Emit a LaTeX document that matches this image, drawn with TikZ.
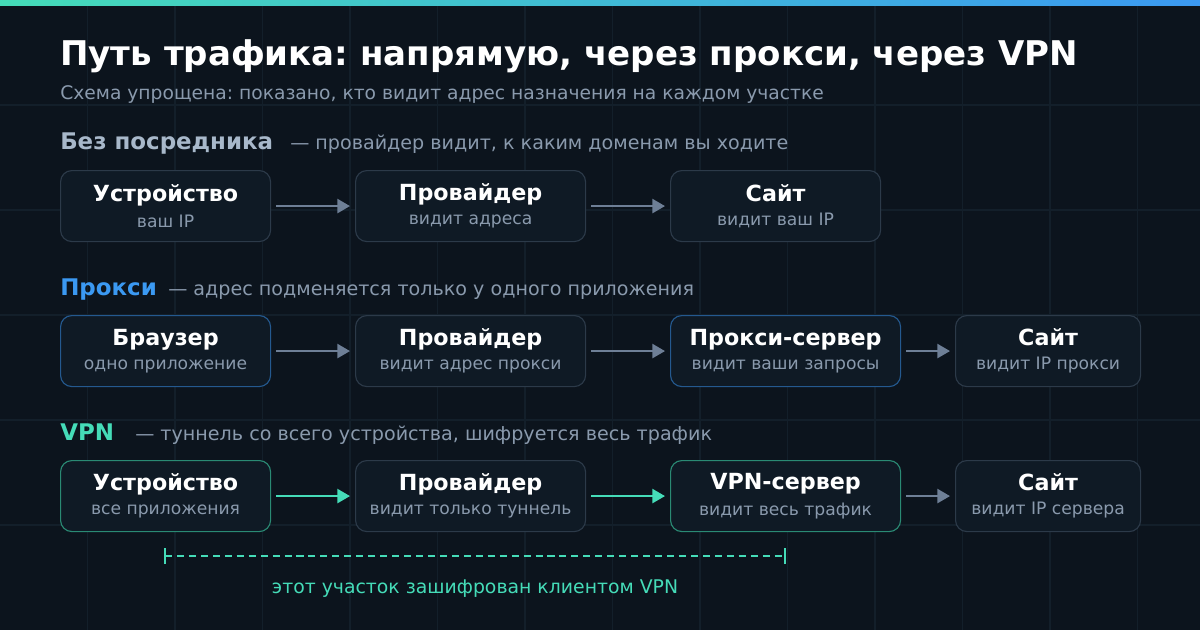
\documentclass[tikz,border=0pt]{standalone}
\usepackage{fontspec}
\setmainfont{DejaVu Sans}
\usetikzlibrary{positioning,arrows.meta}
\definecolor{bgdark}{HTML}{0C141D}
\definecolor{gridc}{HTML}{131F2A}
\definecolor{boxfill}{HTML}{0F1A25}
\definecolor{boxline}{HTML}{2C3A49}
\definecolor{bluel}{HTML}{24598F}
\definecolor{tealline}{HTML}{2A8A74}
\definecolor{teal}{HTML}{45DCB8}
\definecolor{blueh}{HTML}{3B99F2}
\definecolor{greyt}{HTML}{8A9AAD}
\definecolor{greyh}{HTML}{A8B8CA}
\definecolor{arrowc}{HTML}{6E7F96}
\tikzset{
  box/.style={draw=boxline, fill=boxfill, rounded corners=8, line width=0.8pt,
    anchor=north west, minimum height=71*0.025cm, align=center, inner sep=0pt},
  hdr/.style={anchor=base west, font=\fontsize{16.3}{19}\selectfont\bfseries, inner sep=0pt},
  dsc/.style={anchor=base west, text=greyt, font=\fontsize{13.6}{16}\selectfont, inner sep=0pt},
  flow/.style={-{Triangle[length=9pt,width=10pt]}, line width=1.6pt, arrowc, shorten <=5*0.025cm, shorten >=5*0.025cm},
  vflow/.style={flow, teal}
}
\newcommand{\bx}[2]{{\fontsize{15.8}{18}\selectfont\bfseries\color{white}#1}\\[5pt]{\fontsize{12.2}{14}\selectfont\color{greyt}#2}}
\begin{document}
\frenchspacing
\begin{tikzpicture}[x=0.025cm,y=-0.025cm]
\useasboundingbox (0,0) rectangle (1200,630);
\fill[bgdark] (0,0) rectangle (1200,630);
\foreach \i in {1,...,13} \draw[gridc, line width=0.8pt] (\i*87.5,6) -- (\i*87.5,630);
\foreach \j in {1,...,5} \draw[gridc, line width=0.8pt] (0,\j*105) -- (1200,\j*105);
\shade[left color=teal, right color=blueh] (0,0) rectangle (1200,6);
% title
\node[anchor=base west, inner sep=0pt, text=white, font=\fontsize{24.2}{28}\selectfont\bfseries] (title) at (60,66) {Путь трафика: напрямую, через прокси, через VPN};
\node[anchor=base west, inner sep=0pt, text=greyt, font=\fontsize{13.3}{16}\selectfont] (sub) at (60,100) {Схема упрощена: показано, кто видит адрес назначения на каждом участке};
% direct
\node[hdr, text=greyh] (h1) at (60,150) {Без посредника};
\node[dsc] (d1) at (290,150) {— провайдер видит, к каким доменам вы ходите};
\node[box, minimum width=210*0.025cm] (a1) at (60,170) {\bx{Устройство}{ваш IP}};
\node[box, minimum width=230*0.025cm] (a2) at (355,170) {\bx{Провайдер}{видит адреса}};
\node[box, minimum width=210*0.025cm] (a3) at (670,170) {\bx{Сайт}{видит ваш IP}};
\draw[flow] (a1) -- (a2);
\draw[flow] (a2) -- (a3);
% proxy
\node[hdr, text=blueh] (h2) at (60,295) {Прокси};
\node[dsc] (d2) at (168,295) {— адрес подменяется только у одного приложения};
\node[box, draw=bluel, minimum width=210*0.025cm] (b1) at (60,315) {\bx{Браузер}{одно приложение}};
\node[box, minimum width=230*0.025cm] (b2) at (355,315) {\bx{Провайдер}{видит адрес прокси}};
\node[box, draw=bluel, minimum width=230*0.025cm] (b3) at (670,315) {\bx{Прокси-сервер}{видит ваши запросы}};
\node[box, minimum width=185*0.025cm] (b4) at (955,315) {\bx{Сайт}{видит IP прокси}};
\draw[flow] (b1) -- (b2);
\draw[flow] (b2) -- (b3);
\draw[flow] (b3) -- (b4);
% vpn
\node[hdr, text=teal] (h3) at (60,440) {VPN};
\node[dsc] (d3) at (135,440) {— туннель со всего устройства, шифруется весь трафик};
\node[box, draw=tealline, minimum width=210*0.025cm] (c1) at (60,460) {\bx{Устройство}{все приложения}};
\node[box, minimum width=230*0.025cm] (c2) at (355,460) {\bx{Провайдер}{видит только туннель}};
\node[box, draw=tealline, minimum width=230*0.025cm] (c3) at (670,460) {\bx{VPN-сервер}{видит весь трафик}};
\node[box, minimum width=185*0.025cm] (c4) at (955,460) {\bx{Сайт}{видит IP сервера}};
\draw[vflow] (c1) -- (c2);
\draw[vflow] (c2) -- (c3);
\draw[flow] (c3) -- (c4);
% encrypted span
\coordinate (e1) at (165,556);
\coordinate (e2) at (785,556);
\draw[teal, line width=1pt, dash pattern=on 5pt off 3.5pt] (e1) -- (e2);
\draw[teal, line width=1pt] ([yshift=8*0.025cm]e1) -- ([yshift=-8*0.025cm]e1);
\draw[teal, line width=1pt] ([yshift=8*0.025cm]e2) -- ([yshift=-8*0.025cm]e2);
\node[anchor=base, inner sep=0pt, text=teal, font=\fontsize{13.4}{16}\selectfont] (enc) at (475,593) {этот участок зашифрован клиентом VPN};
\end{tikzpicture}
\end{document}
